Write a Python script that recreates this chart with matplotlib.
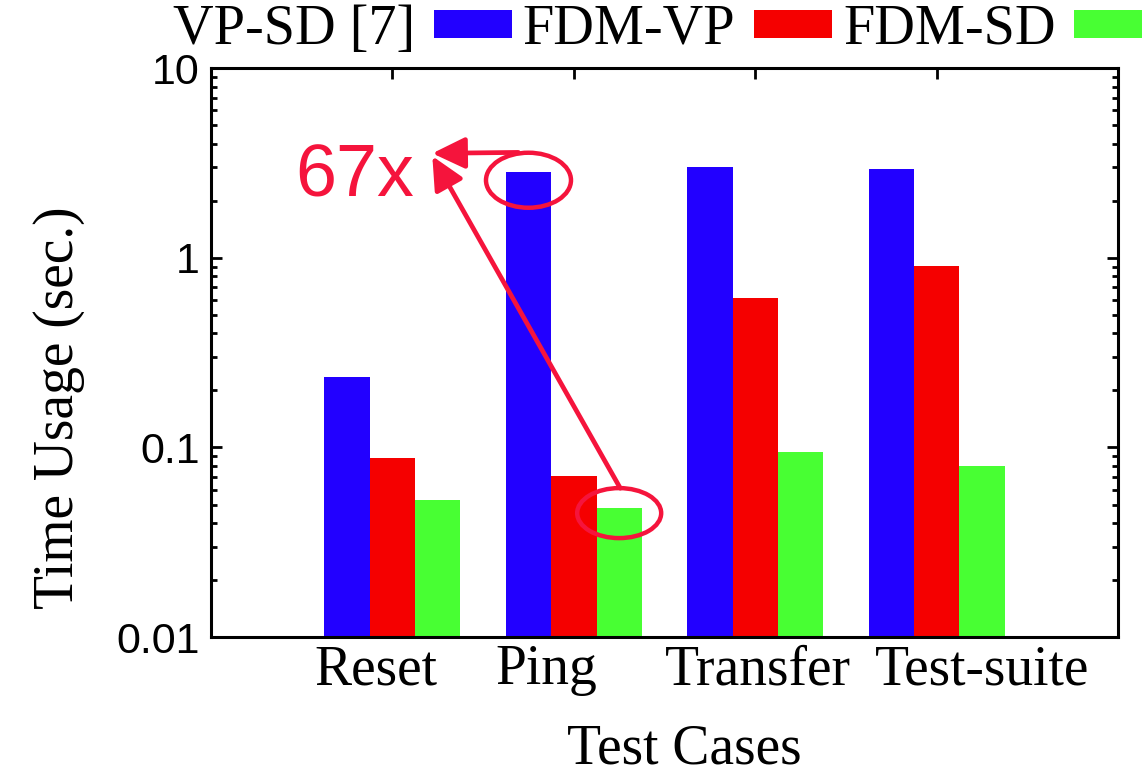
import numpy as np
import matplotlib
matplotlib.use('Agg')
import matplotlib.pyplot as plt
from matplotlib.patches import Ellipse
from matplotlib.transforms import ScaledTranslation
from matplotlib.ticker import LogLocator, FixedLocator, NullFormatter

# data
cases = ['Reset', 'Ping', 'Transfer', 'Test-suite']
series = ['VP-SD [7]', 'FDM-VP', 'FDM-SD']
vp_sd = [0.235, 2.83, 3.01, 2.93]
fdm_vp = [0.088, 0.0706, 0.612, 0.904]
fdm_sd = [0.0527, 0.0479, 0.0945, 0.0798]
y_ticks = [0.01, 0.1, 1, 10]
y_tick_labels = ['0.01', '0.1', '1', '10']
speedup_label = '67x'

colors = ['#2200ff', '#f50000', '#48ff33']
ann_color = '#f5143c'
serif = 'Liberation Serif'
sans = 'Liberation Sans'

fig = plt.figure(figsize=(11.42, 7.76), dpi=100)
ax = fig.add_axes([0.1848, 0.179, 0.7942, 0.733])

x = np.arange(len(cases))
w = 0.25
for i, (vals, name) in enumerate(zip([vp_sd, fdm_vp, fdm_sd], series)):
    ax.bar(x + (i - 1) * w, vals, width=w, color=colors[i], linewidth=0, label=name)

ax.set_yscale('log')
ax.set_ylim(0.01, 10)
ax.set_xlim(-1, 4)

ax.yaxis.set_major_locator(FixedLocator(y_ticks))
ax.set_yticklabels(y_tick_labels, fontfamily=sans, fontsize=31)
ax.yaxis.set_minor_locator(LogLocator(base=10, subs=np.arange(2, 10)))
ax.yaxis.set_minor_formatter(NullFormatter())

ax.set_xticks(x)
ax.set_xticklabels(cases, fontfamily=serif, fontsize=40)

ax.tick_params(axis='y', which='major', direction='in', length=8, width=2, left=True, right=True, pad=8)
ax.tick_params(axis='y', which='minor', direction='in', length=4, width=2, left=True, right=True)
ax.tick_params(axis='x', which='both', direction='in', length=8, width=2, bottom=False, top=True, pad=5)
for s in ax.spines.values():
    s.set_linewidth(2.2)

# gnuplot put the category labels slightly off the group centres
label_shift = [-17, -27.5, 2.5, 45.5]
for lab, dx in zip(ax.get_xticklabels(), label_shift):
    lab.set_transform(lab.get_transform() + ScaledTranslation(dx / 100, 0, fig.dpi_scale_trans))

ax.set_ylabel('Time Usage (sec.)', fontfamily=serif, fontsize=40)
ax.yaxis.set_label_coords(-0.139, 0.404)
ax.set_xlabel('Test Cases', fontfamily=serif, fontsize=40)
ax.xaxis.set_label_coords(0.5215, -0.152)

ax.legend(loc='center left', bbox_to_anchor=(173 / 1142, 1 - 30 / 776),
          bbox_transform=fig.transFigure, ncol=3, frameon=False, markerfirst=False,
          borderpad=0, borderaxespad=0, handlelength=1.385, handleheight=0.38,
          handletextpad=0.33, columnspacing=0.2,
          prop={'family': serif, 'size': 40.5})

# annotation: circles around Ping bars and arrows to the 67x label
def ring(xd, yd, wpx, hpx, dy):
    tr = fig.dpi_scale_trans + ScaledTranslation(xd, yd, ax.transData)
    e = Ellipse((0, dy / 100), wpx / 100, hpx / 100, transform=tr,
                fill=False, edgecolor=ann_color, linewidth=3.2, clip_on=False)
    ax.add_artist(e)

ring(x[1] - w, vp_sd[1], 85, 55, -8)
ring(x[1] + w, fdm_sd[1], 84, 50, -5)

astyle = dict(arrowstyle='-|>,head_length=1.0,head_width=0.48', mutation_scale=20,
              color=ann_color, lw=3.4, shrinkA=0, shrinkB=0)
ax.annotate('', xy=(0.22, 3.56), xytext=(0.694, 3.6), arrowprops=astyle)
ax.annotate('', xy=(0.22, 3.44), xytext=(1.256, 0.061), arrowprops=astyle)
ax.text(-0.209, 2.11, speedup_label, color=ann_color, fontfamily=sans, fontsize=53,
        ha='center', va='baseline')

fig.savefig('out.png', dpi=100)
plt.close(fig)
